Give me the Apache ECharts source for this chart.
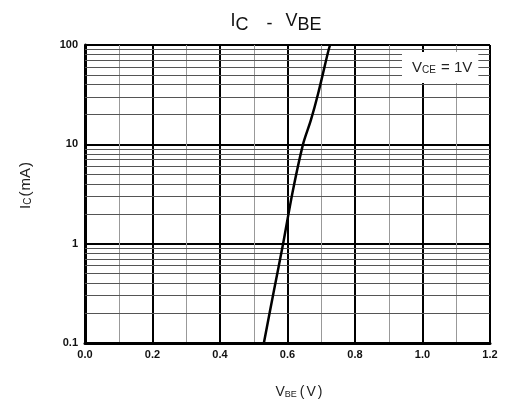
<!DOCTYPE html>
<html>
<head>
<meta charset="utf-8">
<script src="https://cdn.jsdelivr.net/npm/echarts@6/dist/echarts.min.js"></script>
<style>html,body{margin:0;padding:0;background:#fff}#c{width:530px;height:406px}</style>
</head>
<body>
<div id="c"></div>
<script>
// Data
var vbe = [0.530, 0.560, 0.587, 0.615, 0.646, 0.669, 0.691, 0.720, 0.726];
var ic  = [0.1, 0.34, 1, 3.3, 10, 17.4, 32.7, 84.5, 100];
var xTicks = [0.0, 0.2, 0.4, 0.6, 0.8, 1.0, 1.2];
var yTicks = [0.1, 1, 10, 100];
var yMinorGrid = [0.2,0.3,0.4,0.5,0.6,0.7,0.8,0.9, 2,3,4,5,6,7,8,9, 20,30,40,50,60,70,80,90];

var chart = echarts.init(document.getElementById('c'), null, {renderer: 'canvas'});
var font = 'Liberation Sans, Arial, sans-serif';
chart.setOption({
  animation: false,
  backgroundColor: '#fff',
  title: [
    {
      text: '{a|I}{s|C}{d|-}{a|V}{s|BE}',
      left: 271, top: 3, textAlign: 'center',
      textStyle: {
        fontFamily: font, fontSize: 18, fontWeight: 'normal', color: '#111',
        rich: {
          a: { fontFamily: font, fontSize: 18, color: '#111' },
          d: { fontFamily: font, fontSize: 18, color: '#111', padding: [7, 13, 0, 18] },
          s: { fontFamily: font, fontSize: 18, color: '#111', padding: [8, 0, 0, 0] }
        }
      }
    },
    {
      text: '{a|V}{s|BE}{p|(}{a|V}{p|)}',
      left: 295, top: 380, textAlign: 'center',
      textStyle: {
        fontFamily: font, fontSize: 14, fontWeight: 'normal', color: '#222',
        rich: {
          a: { fontFamily: font, fontSize: 14, color: '#222' },
          p: { fontFamily: font, fontSize: 14, color: '#222', padding: [0, 2, 0, 2] },
          s: { fontFamily: font, fontSize: 9, color: '#222', padding: [5, 1, 0, 0] }
        }
      }
    },
    {
      text: 'V{s|CE} = 1V',
      left: 402, top: 52,
      backgroundColor: '#fff',
      padding: [8, 6, 8, 10],
      textStyle: {
        fontFamily: font, fontSize: 15, fontWeight: 'normal', color: '#222',
        rich: { s: { fontFamily: font, fontSize: 10, color: '#222', padding: [5, 1, 0, 0] } }
      }
    }
  ],
  grid: { left: 85, right: 40, top: 45, bottom: 63, containLabel: false },
  xAxis: {
    type: 'value', min: 0, max: 1.2, interval: 0.2,
    axisLine: { show: true, lineStyle: { color: '#000', width: 3 } },
    axisTick: { show: false },
    minorTick: { show: false, splitNumber: 2 },
    minorSplitLine: { show: true, lineStyle: { color: '#999', width: 1 } },
    splitLine: { show: true, lineStyle: { color: '#000', width: 2 } },
    axisLabel: {
      margin: 6, fontFamily: font, fontSize: 11, fontWeight: 'bold', color: '#111',
      formatter: function (v) { return v.toFixed(1); }
    }
  },
  yAxis: {
    type: 'log', logBase: 10, min: 0.1, max: 100,
    name: '{a|I}{s|C}{p|(}{a|mA}{p|)}', nameLocation: 'middle', nameGap: 52, nameRotate: 90,
    nameTextStyle: {
      fontFamily: font, fontSize: 15, color: '#222', padding: [0, 0, 0, 18],
      rich: {
        a: { fontFamily: font, fontSize: 15, color: '#222' },
        p: { fontFamily: font, fontSize: 15, color: '#222', padding: [0, 1, 0, 1] },
        s: { fontFamily: font, fontSize: 10, color: '#222', padding: [5, 0, 0, 0] }
      }
    },
    axisLine: { show: true, lineStyle: { color: '#000', width: 3 } },
    axisTick: { show: false },
    splitLine: { show: true, lineStyle: { color: '#000', width: 2 } },
    axisLabel: {
      margin: 7, fontFamily: font, fontSize: 11, fontWeight: 'bold', color: '#111',
      formatter: function (v) { return String(v); }
    }
  },
  series: [
    {
      type: 'line', data: [], silent: true, z: 1,
      markLine: {
        silent: true, symbol: 'none', animation: false,
        label: { show: false },
        lineStyle: { color: '#555', width: 1, type: 'solid' },
        data: yMinorGrid.map(function (v) { return { yAxis: v }; })
      }
    },
    {
      type: 'line', z: 5,
      data: vbe.map(function (x, i) { return [x, ic[i]]; }),
      smooth: 0.3, showSymbol: false,
      lineStyle: { color: '#000', width: 2.5 }
    }
  ]
});
</script>
</body>
</html>
